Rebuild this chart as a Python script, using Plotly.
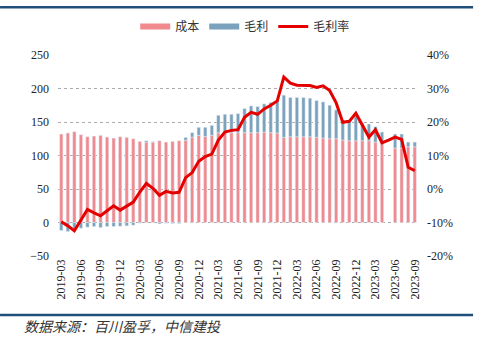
import plotly.graph_objects as go

months = [f"{y}-{m:02d}" for y in range(2019, 2024) for m in range(1, 13)]
months = months[months.index("2019-03"):months.index("2023-09") + 1]

cost = [132, 133.5, 135.5, 131, 128, 129, 130, 127.5, 126, 128,
        127, 125, 121, 120, 120, 122, 120, 121, 122, 122.7,
        127.4, 130, 128.5, 130, 134, 134, 134, 134, 134, 134,
        134, 135, 134, 133.5, 127, 128, 128, 128, 128, 127,
        126, 125, 125, 123, 122, 122, 122, 122, 120, 118,
        None, 111, 111, 113, 113]

gross = [-12, -13.5, -10, -8.6, -7, -6, -7.6, -6, -6, -5.6,
         -5, -4, -1, 2, 0.5, -2, -1, -1.5, -1.5, 4.3,
         6.6, 12, 13.5, 15, 26, 27.5, 27.5, 28.5, 36, 40,
         39, 42, 45, 47.5, 63, 58.5, 58.5, 58.5, 57.5, 55,
         54, 50, 43, 30, 31, 36, 26, 25, 23, 17,
         None, 21, 21, 7, 7]

margin = [-9.8, -11.0, -12.5, -9.3, -6.1, -7.1, -8.0, -6.5, -5.0, -6.3,
          -5.1, -3.9, -0.9, 1.7, 0.2, -1.9, -0.7, -1.2, -1.0, 3.4,
          4.9, 8.3, 9.7, 10.4, 14.6, 17.0, 17.5, 17.7, 21.4, 22.9,
          22.3, 23.9, 25.0, 26.3, 33.4, 31.6, 31.0, 30.9, 30.9, 30.3,
          30.8, 29.4, 25.7, 19.9, 20.2, 22.6, 18.9, 15.5, 17.7, 13.8,
          14.6, 15.5, 14.8, 6.5, 5.5]

tick_labels = months[::3]

PINK = "#F08A8E"
BLUE = "#7BA2BC"
RED = "#E50000"
SERIF = "Times New Roman"
CJK = "Noto Sans CJK SC"

fig = go.Figure()
fig.add_trace(go.Bar(x=months, y=cost, marker_color=PINK, showlegend=False, name="成本"))
fig.add_trace(go.Bar(x=months, y=gross, marker_color=BLUE, showlegend=False, name="毛利"))
fig.add_trace(go.Scatter(x=months, y=margin, yaxis="y2", mode="lines",
                         line=dict(color=RED, width=3), showlegend=False, name="毛利率"))
# legend proxies
fig.add_trace(go.Scatter(x=[None], y=[None], mode="lines", line=dict(color=PINK, width=6), name="成本"))
fig.add_trace(go.Scatter(x=[None], y=[None], mode="lines", line=dict(color=BLUE, width=6), name="毛利"))
fig.add_trace(go.Scatter(x=[None], y=[None], mode="lines", line=dict(color=RED, width=3), name="毛利率"))

fig.update_layout(
    width=484, height=347,
    margin=dict(l=58, r=66, t=52, b=91),
    paper_bgcolor="white", plot_bgcolor="white",
    barmode="relative", bargap=0.5,
    font=dict(family=SERIF, size=12, color="#222"),
    legend=dict(orientation="h", x=0.52, xanchor="center", y=1.142, yanchor="middle",
                font=dict(family=CJK, size=12, color="#333"), itemwidth=30,
                bgcolor="rgba(0,0,0,0)"),
    xaxis=dict(type="category", range=[-0.5, 54.5], tickmode="array",
               tickvals=tick_labels, ticktext=tick_labels, tickangle=-90,
               showgrid=False, zeroline=False, showline=False, ticks="",
               tickfont=dict(family=SERIF, size=12, color="#222")),
    yaxis=dict(range=[-50, 250], tickvals=[-50, 0, 50, 100, 150, 200, 250],
               showgrid=True, gridcolor="#aaaaaa", gridwidth=0.6, griddash="dot",
               zeroline=False, showline=False, ticks="", ticklabelstandoff=8,
               tickfont=dict(family=SERIF, size=12, color="#222")),
    yaxis2=dict(range=[-20, 40], tickvals=[-20, -10, 0, 10, 20, 30, 40],
                ticktext=["-20%", "-10%", "0%", "10%", "20%", "30%", "40%"],
                overlaying="y", side="right", showgrid=False, zeroline=False,
                showline=False, ticks="", ticklabelstandoff=8,
                tickfont=dict(family=SERIF, size=12, color="#222")),
    shapes=[
        dict(type="line", xref="paper", yref="paper", x0=-0.161, x1=1.153, y0=1.238, y1=1.238,
             line=dict(color="#1F4E79", width=2.5)),
        dict(type="line", xref="paper", yref="paper", x0=-0.161, x1=1.153, y0=-0.294, y1=-0.294,
             line=dict(color="#1F4E79", width=2.5)),
    ],
    annotations=[
        dict(text="数据来源：百川盈孚，中信建投", xref="paper", yref="paper",
             x=-0.1, y=-0.35, xanchor="left", yanchor="middle", showarrow=False,
             font=dict(family=CJK, size=14, color="#333", style="italic")),
    ],
)

fig.write_html("out.html")
